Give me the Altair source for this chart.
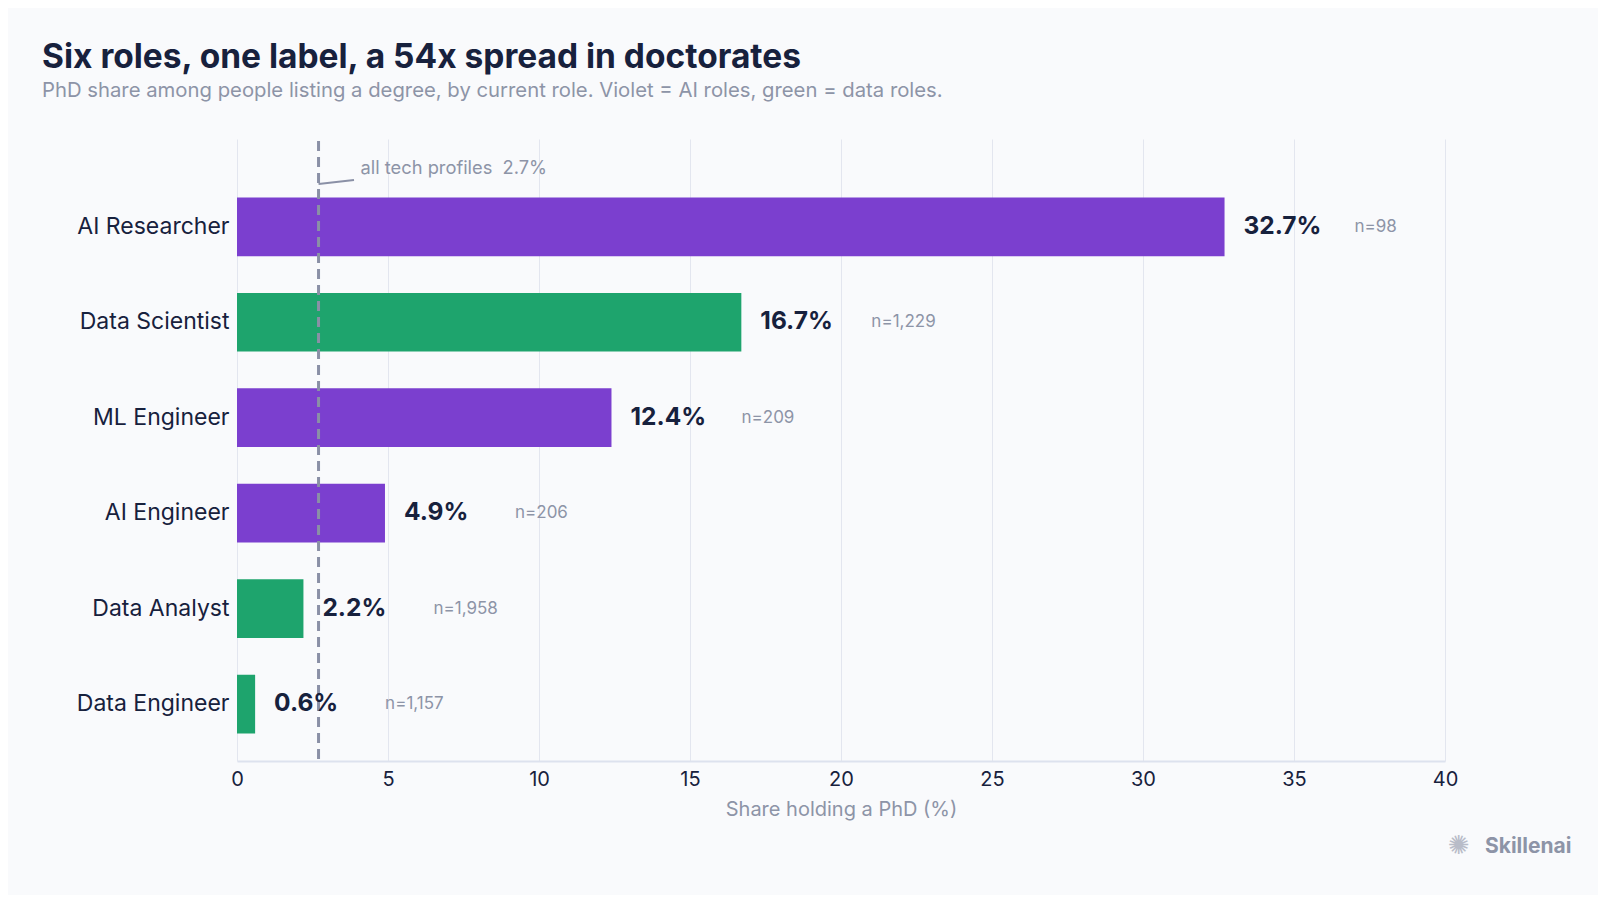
import altair as alt
import pandas as pd

roles = ["AI Researcher", "Data Scientist", "ML Engineer", "AI Engineer", "Data Analyst", "Data Engineer"]
phd_share = [32.7, 16.7, 12.4, 4.9, 2.2, 0.6]
sample_n = [98, 1229, 209, 206, 1958, 1157]
group = ["AI", "Data", "AI", "AI", "Data", "Data"]
benchmark_value = 2.7
benchmark_label = "all tech profiles\u00a0\u00a02.7%"

df = pd.DataFrame({
    "role": roles,
    "share": phd_share,
    "n": sample_n,
    "group": group,
})
df["share_label"] = df["share"].map(lambda v: f"{v:.1f}%")
df["n_label"] = df["n"].map(lambda v: f"n={v:,}")

bench = pd.DataFrame({"x": [benchmark_value], "label": [benchmark_label]})

DARK = "#17213d"
GRAY = "#8d94a7"
FONT = "Inter"

x_scale = alt.Scale(domain=[0, 40], nice=False)
y_scale = alt.Scale(domain=roles, paddingInner=0.385, paddingOuter=0.45, align=0.68)

base = alt.Chart(df)

bars = base.mark_bar().encode(
    x=alt.X("share:Q", scale=x_scale,
            axis=alt.Axis(title="Share holding a PhD (%)", values=[0, 5, 10, 15, 20, 25, 30, 35, 40],
                          grid=True, gridColor="#e3e6ef", gridWidth=1, ticks=False,
                          domain=True, domainColor="#dde2ee", domainWidth=2,
                          labelFont=FONT, labelFontSize=20, labelColor=DARK, labelPadding=8,
                          labelFlush=False,
                          titleFont=FONT, titleFontSize=20, titleColor=GRAY, titleFontWeight="normal",
                          titlePadding=10)),
    y=alt.Y("role:N", scale=y_scale, sort=roles,
            axis=alt.Axis(title=None, ticks=False, domain=False, grid=False,
                          labelFont=FONT, labelFontSize=23, labelColor=DARK, labelPadding=8,
                          labelLimit=300)),
    color=alt.Color("group:N", scale=alt.Scale(domain=["AI", "Data"], range=["#7b3fcf", "#1ea46d"]),
                    legend=None),
)

value_text = base.mark_text(align="left", baseline="middle", dx=19, font=FONT, fontSize=24.5,
                            fontWeight="bold", color=DARK).encode(
    x=alt.X("share:Q", scale=x_scale),
    y=alt.Y("role:N", scale=y_scale, sort=roles),
    text="share_label:N",
)

n_text = base.mark_text(align="left", baseline="middle", dx=130, font=FONT, fontSize=17,
                        color=GRAY).encode(
    x=alt.X("share:Q", scale=x_scale),
    y=alt.Y("role:N", scale=y_scale, sort=roles),
    text="n_label:N",
)

bench_rule = alt.Chart(bench).mark_rule(color="#8a90a6", strokeWidth=3, strokeDash=[10, 6]).encode(
    x=alt.X("x:Q", scale=x_scale),
    y=alt.value(2),
    y2=alt.value(622),
)

leader = alt.Chart(bench).mark_rule(color="#8a90a6", strokeWidth=2).encode(
    x=alt.X("x:Q", scale=x_scale),
    x2=alt.value(117),
    y=alt.value(45),
    y2=alt.value(41),
)

bench_text = alt.Chart(bench).mark_text(align="left", baseline="middle", dx=42,
                                        font=FONT, fontSize=18.3, color=GRAY).encode(
    x=alt.X("x:Q", scale=x_scale),
    y=alt.value(30),
    text="label:N",
)

logo_icon = alt.Chart(bench).mark_text(align="center", baseline="middle", font="DejaVu Sans",
                                       fontSize=26, color="#b8bcc8").encode(
    x=alt.value(1222),
    y=alt.value(707),
    text=alt.value("✺"),
)
logo_text = alt.Chart(bench).mark_text(align="left", baseline="middle", font=FONT, fontSize=21,
                                       fontWeight="bold", color=GRAY).encode(
    x=alt.value(1248),
    y=alt.value(708),
    text=alt.value("Skillenai"),
)

chart = alt.layer(bars, bench_rule, leader, bench_text, value_text, n_text, logo_icon, logo_text).properties(
    width=1208,
    height=622,
    autosize=alt.AutoSizeParams(type="none"),
    padding={"left": 229, "top": 131, "right": 153, "bottom": 134},
    background="#f9fafc",
    title=alt.TitleParams(
        text="Six roles, one label, a 54x spread in doctorates",
        subtitle="PhD share among people listing a degree, by current role. Violet = AI roles, green = data roles.",
        anchor="start",
        frame="group",
        dx=-195,
        offset=37,
        font=FONT,
        fontSize=33.5,
        fontWeight="bold",
        color=DARK,
        subtitleFont=FONT,
        subtitleFontSize=20.3,
        subtitleColor=GRAY,
        subtitlePadding=5,
    ),
).configure_view(stroke=None)

chart.save("out.html", embed_options={"renderer": "svg", "actions": False})
